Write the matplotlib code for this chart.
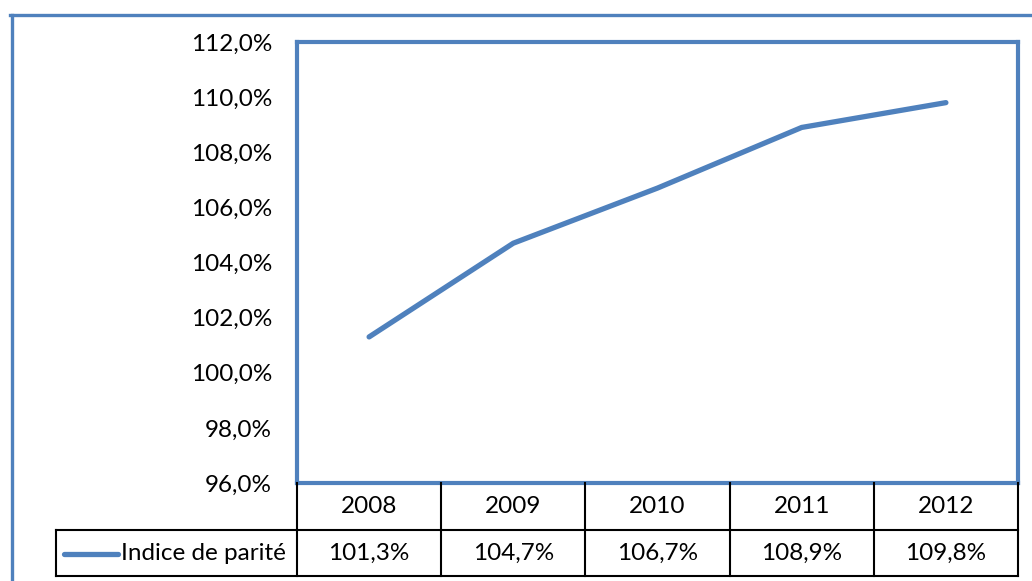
import matplotlib
matplotlib.use("Agg")
import matplotlib.pyplot as plt
from matplotlib.lines import Line2D

years = ["2008", "2009", "2010", "2011", "2012"]
values = [101.3, 104.7, 106.7, 108.9, 109.8]
value_labels = ["101,3%", "104,7%", "106,7%", "108,9%", "109,8%"]
yticks = [96, 98, 100, 102, 104, 106, 108, 110, 112]
ytick_labels = ["96,0%", "98,0%", "100,0%", "102,0%", "104,0%", "106,0%", "108,0%", "110,0%", "112,0%"]
series_name = "Indice de parité"

BLUE = "#4F81BD"
W, H = 1032, 581
plt.rcParams['font.family'] = ['Lato', 'DejaVu Sans']
FS = 17.5

fig = plt.figure(figsize=(W / 100, H / 100), dpi=100)

def fx(px):
    return px / W

def fy(py):
    return 1 - py / H

# outer chart border
fig.add_artist(Line2D([fx(11.5), fx(11.5)], [fy(15), fy(H + 5)], color=BLUE, lw=2.4))
fig.add_artist(Line2D([fx(10), fx(W + 5)], [fy(15), fy(15)], color=BLUE, lw=2.4))

L, R, T, B = 297, 1018, 42, 483
ax = fig.add_axes([fx(L), fy(B), fx(R - L), fy(T) - fy(B)])
x = list(range(len(years)))
ax.plot(x, values, color=BLUE, lw=3.8, solid_capstyle='round', solid_joinstyle='round')
ax.set_xlim(-0.5, len(years) - 0.5)
ax.set_ylim(96, 112)
ax.set_yticks(yticks)
ax.set_yticklabels(ytick_labels, fontsize=FS)
ax.tick_params(axis='y', length=0, pad=18)
ax.set_xticks([])
for s in ax.spines.values():
    s.set_color(BLUE)
    s.set_linewidth(3)

# data table
row1_top, row1_bot, row2_bot = B, 530, 576
col_edges = [L + i * (R - L) / len(years) for i in range(len(years) + 1)]
lk = dict(color='black', lw=1.5)
fig.add_artist(Line2D([fx(56), fx(R)], [fy(row1_bot), fy(row1_bot)], **lk))
fig.add_artist(Line2D([fx(56), fx(R)], [fy(row2_bot), fy(row2_bot)], **lk))
for cx in col_edges:
    fig.add_artist(Line2D([fx(cx), fx(cx)], [fy(row1_top), fy(row2_bot)], **lk))
fig.add_artist(Line2D([fx(56), fx(56)], [fy(row1_bot), fy(row2_bot)], **lk))

for i, (yr, vl) in enumerate(zip(years, value_labels)):
    cx = (col_edges[i] + col_edges[i + 1]) / 2
    fig.text(fx(cx), fy((row1_top + row1_bot) / 2), yr, ha='center', va='center', fontsize=FS)
    fig.text(fx(cx), fy((row1_bot + row2_bot) / 2), vl, ha='center', va='center', fontsize=FS)

# legend key in table
ymid = fy((row1_bot + row2_bot) / 2 + 1)
fig.add_artist(Line2D([fx(64), fx(118)], [ymid, ymid], color=BLUE, lw=3.8, solid_capstyle='round'))
fig.text(fx(121), fy((row1_bot + row2_bot) / 2), series_name, ha='left', va='center', fontsize=FS)

fig.savefig("out.png", dpi=100)
